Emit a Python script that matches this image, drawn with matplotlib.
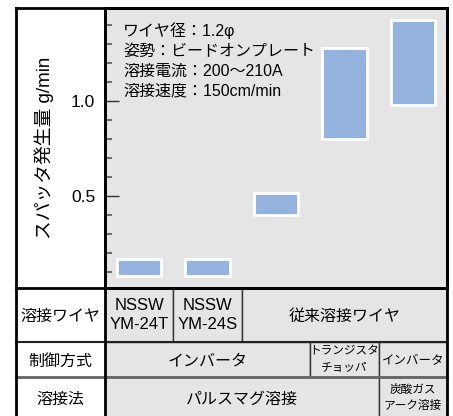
import matplotlib.pyplot as plt
from matplotlib.patches import Rectangle
from matplotlib.ticker import MultipleLocator

plt.rcParams['font.family'] = ['Liberation Sans', 'Noto Sans CJK JP']

# spatter rate range (g/min) for each welding setup
bar_low = [0.08, 0.08, 0.40, 0.80, 0.98]
bar_high = [0.17, 0.17, 0.52, 1.28, 1.43]

ylabel = 'スパッタ発生量 g/min'
conditions = ['ワイヤ径：1.2φ', '姿勢：ビードオンプレート',
              '溶接電流：200～210A', '溶接速度：150cm/min']

# table under the chart: (first column, last column + 1, text)
row_titles = ['溶接ワイヤ', '制御方式', '溶接法']
wire_cells = [(0, 1, 'NSSW\nYM-24T'), (1, 2, 'NSSW\nYM-24S'), (2, 5, '従来溶接ワイヤ')]
control_cells = [(0, 3, 'インバータ'), (3, 4, 'トランジスタ\nチョッパ'), (4, 5, 'インバータ')]
process_cells = [(0, 4, 'パルスマグ溶接'), (4, 5, '炭酸ガス\nアーク溶接')]

fig = plt.figure(figsize=(4.53, 4.16), dpi=100)
ax = fig.add_axes([105 / 453, 1 - 288 / 416, 342 / 453, 280 / 416])
ax.set_facecolor('#e5e5e5')

x = range(len(bar_low))
heights = [h - l for l, h in zip(bar_low, bar_high)]
ax.bar(x, heights, bottom=bar_low, width=0.65, color='#94b3de',
       edgecolor='white', linewidth=2)

ax.set_xlim(-0.5, 4.5)
ax.set_ylim(0.018, 1.492)
ax.set_xticks([])
ax.yaxis.set_major_locator(MultipleLocator(0.5))
ax.yaxis.set_minor_locator(MultipleLocator(0.1))
ax.tick_params(axis='y', which='major', direction='in', length=10, width=1,
               color='#333333', labelsize=12.5, pad=7)
ax.tick_params(axis='y', which='minor', direction='in', length=5, width=1.2,
               color='#555555')
for s in ax.spines.values():
    s.set_linewidth(2)
    s.set_color('black')

# test conditions
for i, txt in enumerate(conditions):
    ax.text(0.053, 1.345 - 0.105 * i, txt, fontsize=11.5, va='baseline', ha='left',
            transform=ax.get_yaxis_transform())

ax.text(-0.178, 0.5, ylabel, rotation=90, fontsize=13.5, ha='center',
        va='center', transform=ax.transAxes)

# table
left = -0.26
row_edges = [0, -0.193, -0.318, -0.47]
tr = ax.get_xaxis_transform()
rows = [wire_cells, control_cells, process_cells]
for r, cells in enumerate(rows):
    y0, y1 = row_edges[r + 1], row_edges[r]
    ym = (y0 + y1) / 2
    ax.text(left / 2, ym, row_titles[r], fontsize=11.5, ha='center',
            va='center_baseline', transform=ax.transAxes, clip_on=False)
    for c0, c1, txt in cells:
        xa, xb = c0 - 0.5, c1 - 0.5
        ax.add_patch(Rectangle((xa, y0), xb - xa, y1 - y0, transform=tr,
                               facecolor='#e5e5e5', edgecolor='#333333',
                               linewidth=1, clip_on=False))
        fs, ls, va = 11.5, 1.1, 'center_baseline'
        if c1 - c0 == 1 and r > 0:
            if '\n' in txt:
                fs, ls, va = 8.4, 1.45, 'center'
            else:
                fs = 9
        if r == 0 and c1 - c0 == 1:
            fs, ls, va = 12, 1.3, 'center'
        ax.text((xa + xb) / 2, ym, txt, fontsize=fs, ha='center', va=va,
                transform=tr, clip_on=False, linespacing=ls)

# frame and row lines
def hline(y, color='black', lw=2):
    ax.plot([left, 1], [y, y], color=color, lw=lw, transform=ax.transAxes,
            clip_on=False, solid_capstyle='projecting')

def vline(xp, color='black', lw=2):
    ax.plot([xp, xp], [1, row_edges[-1]], color=color, lw=lw,
            transform=ax.transAxes, clip_on=False, solid_capstyle='projecting')

hline(1)
hline(0)
hline(row_edges[1], '#222222', 1.5)
hline(row_edges[2], '#666666', 2)
vline(left)
vline(0)
vline(1)

fig.savefig('out.png', dpi=100, facecolor='white')
